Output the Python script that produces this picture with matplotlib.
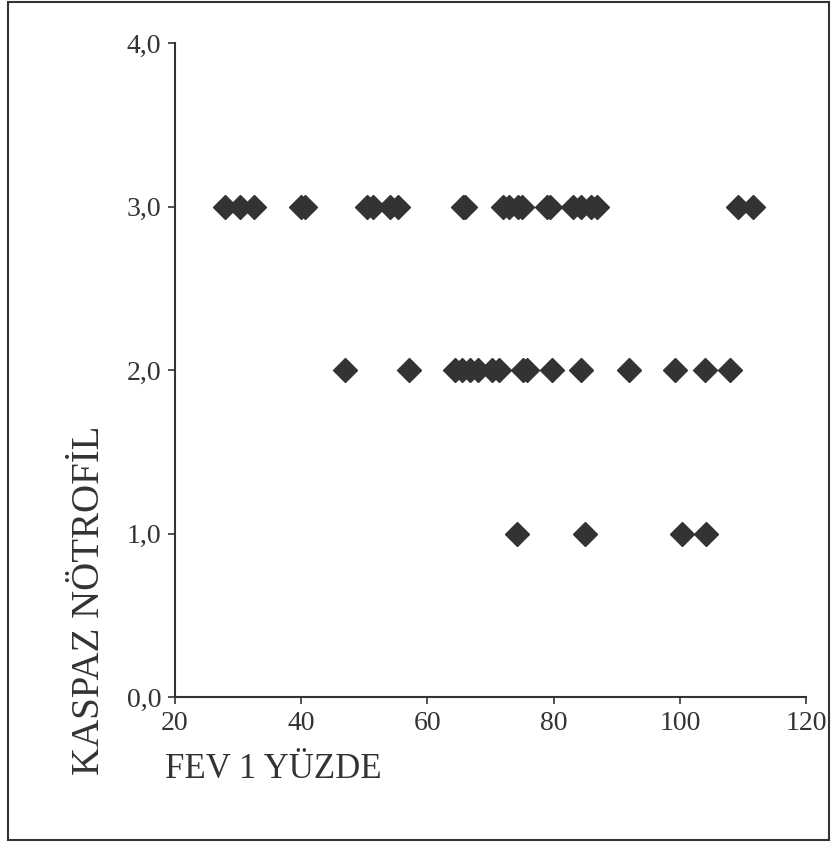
import matplotlib.pyplot as plt
from matplotlib.patches import Rectangle

# FEV1 % values grouped by KASPAZ NÖTROFİL level
fev_3 = [27.9, 30.3, 32.5, 40.0, 40.6, 50.4, 51.4, 54.1, 55.3, 65.6, 65.9,
         72.0, 73.0, 74.3, 75.0, 79.0, 79.4, 83.0, 84.4, 86.0, 86.8, 109.2, 111.6]
fev_2 = [46.9, 57.1, 64.3, 65.5, 66.8, 68.0, 70.2, 71.3, 75.2, 75.8, 79.7,
         84.3, 91.9, 99.2, 104.0, 108.0]
fev_1 = [74.2, 85.0, 100.3, 104.2]

x_ticks = [20, 40, 60, 80, 100, 120]
y_ticks = [0, 1, 2, 3, 4]
y_labels = ['0,0', '1,0', '2,0', '3,0', '4,0']

plt.rcParams['font.family'] = ['Liberation Serif', 'DejaVu Serif']

fig = plt.figure(figsize=(8.39, 8.43), dpi=100)
ax = fig.add_axes([175 / 839, 1 - 697 / 843, (806 - 175) / 839, (697 - 43) / 843])

xs = fev_3 + fev_2 + fev_1
ys = [3] * len(fev_3) + [2] * len(fev_2) + [1] * len(fev_1)
ax.plot(xs, ys, linestyle='none', marker='D', markersize=12.5,
        color='#333336', clip_on=False)

ax.set_xlim(20, 120)
ax.set_ylim(0, 4)
ax.set_xticks(x_ticks)
ax.set_yticks(y_ticks)
ax.set_yticklabels(y_labels)
for s in ['top', 'right']:
    ax.spines[s].set_visible(False)
for s in ['left', 'bottom']:
    ax.spines[s].set_linewidth(1.5)
    ax.spines[s].set_color('#333333')
ax.tick_params(direction='out', length=5, width=1.2, color='#333333',
               labelsize=20, labelcolor='#333333', pad=5)

fig.text(165 / 839, 1 - 770 / 843, 'FEV 1 YÜZDE', fontsize=25,
         color='#333333', ha='left', va='center')
fig.text(90 / 839, 1 - 600 / 843, 'KASPAZ NÖTROFİL', fontsize=28,
         color='#333333', ha='center', va='center', rotation=90)

fig.patches.append(Rectangle((8 / 839, 1 - 840 / 843), 821 / 839, 838 / 843,
                             transform=fig.transFigure, fill=False,
                             edgecolor='#333333', linewidth=1.5))

fig.savefig('out.png', dpi=100)
